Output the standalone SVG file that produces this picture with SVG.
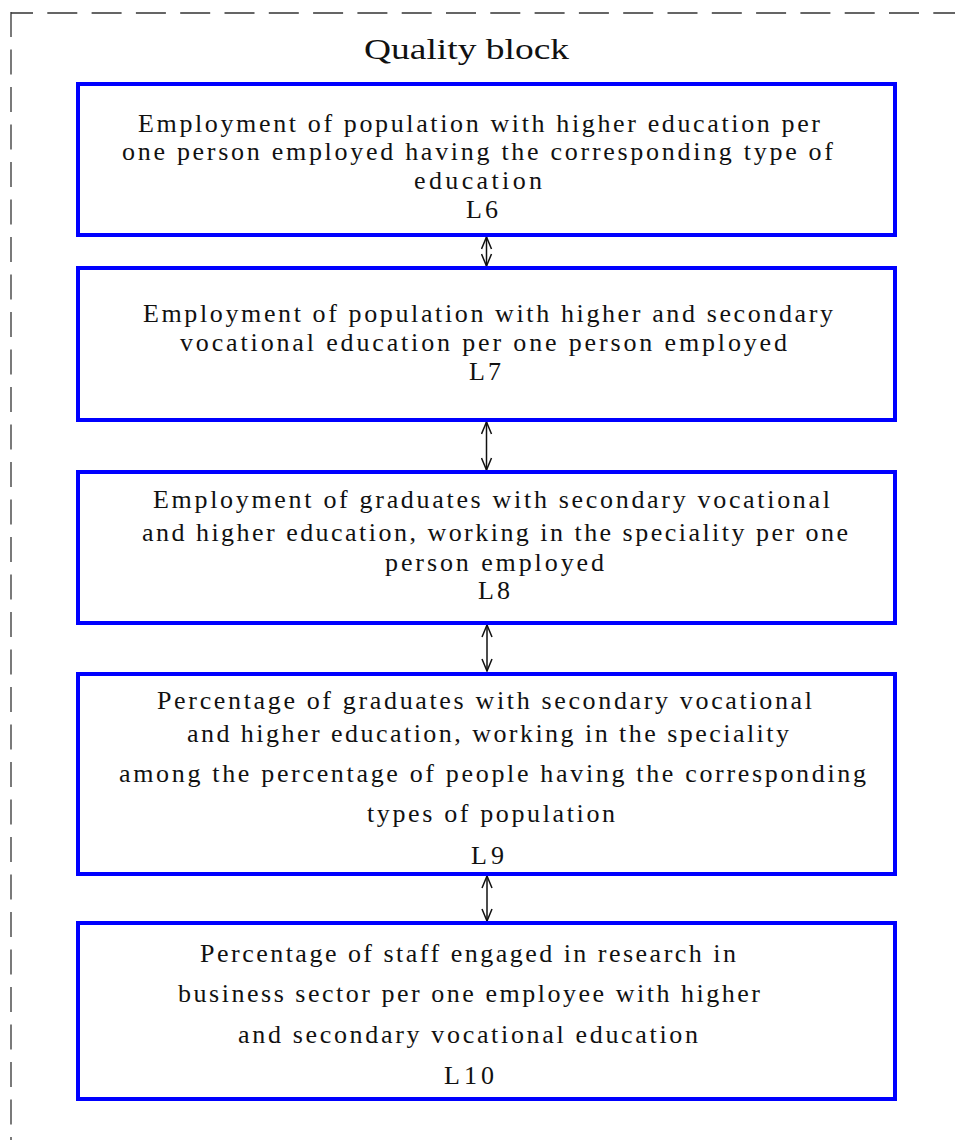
<svg xmlns="http://www.w3.org/2000/svg" width="955" height="1140" viewBox="0 0 955 1140">
<style>
.box{fill:#ffffff;stroke:#0000ff;stroke-width:4}
.t{font-family:"Liberation Serif","Times New Roman",serif;font-size:26px;fill:#111111}
.title{font-family:"Liberation Serif","Times New Roman",serif;font-size:30px;fill:#111111}
.conn{stroke:#111111;stroke-width:1.5;fill:none}
.frame{stroke:#333333;stroke-width:1.3;fill:none}
</style>
<defs>
<marker id="ah" viewBox="0 0 14 12" refX="13" refY="6" markerWidth="14" markerHeight="12" markerUnits="userSpaceOnUse" orient="auto-start-reverse">
<path d="M1,1 L13,6 L1,11" fill="none" stroke="#111111" stroke-width="1.5"/>
</marker>
</defs>
<rect width="955" height="1140" fill="#ffffff"/>
<g id="frame">
<line class="frame" x1="11" y1="13" x2="955" y2="13" stroke-dasharray="30 14.3" stroke-dashoffset="8"/>
<line class="frame" x1="11" y1="12" x2="11" y2="1140" stroke-dasharray="25 12.5"/>
<text class="title" x="364" y="59" textLength="205" lengthAdjust="spacingAndGlyphs">Quality block</text>
</g>
<g id="connectors">
<line class="conn" x1="486.5" y1="237" x2="486.5" y2="266" marker-start="url(#ah)" marker-end="url(#ah)"/>
<line class="conn" x1="486.5" y1="422" x2="486.5" y2="470" marker-start="url(#ah)" marker-end="url(#ah)"/>
<line class="conn" x1="487" y1="625" x2="487" y2="671" marker-start="url(#ah)" marker-end="url(#ah)"/>
<line class="conn" x1="487" y1="876" x2="487" y2="921" marker-start="url(#ah)" marker-end="url(#ah)"/>
</g>
<g id="L6">
<rect class="box" x="78" y="84" width="817" height="151"/>
<text class="t" x="138" y="132" textLength="682" lengthAdjust="spacing">Employment of population with higher education per</text>
<text class="t" x="122" y="160" textLength="711" lengthAdjust="spacing">one person employed having the corresponding type of</text>
<text class="t" x="414" y="189" textLength="128" lengthAdjust="spacing">education</text>
<text class="t" x="466" y="218" textLength="32" lengthAdjust="spacing">L6</text>
</g>
<g id="L7">
<rect class="box" x="78" y="268" width="817" height="152"/>
<text class="t" x="143" y="322" textLength="690" lengthAdjust="spacing">Employment of population with higher and secondary</text>
<text class="t" x="180" y="351" textLength="607" lengthAdjust="spacing">vocational education per one person employed</text>
<text class="t" x="469" y="380" textLength="32" lengthAdjust="spacing">L7</text>
</g>
<g id="L8">
<rect class="box" x="78" y="472" width="817" height="151"/>
<text class="t" x="153" y="508" textLength="677" lengthAdjust="spacing">Employment of graduates with secondary vocational</text>
<text class="t" x="142" y="541" textLength="706" lengthAdjust="spacing">and higher education, working in the speciality per one</text>
<text class="t" x="385" y="571" textLength="219" lengthAdjust="spacing">person employed</text>
<text class="t" x="478" y="599" textLength="32" lengthAdjust="spacing">L8</text>
</g>
<g id="L9">
<rect class="box" x="78" y="674" width="817" height="200"/>
<text class="t" x="157" y="709" textLength="655" lengthAdjust="spacing">Percentage of graduates with secondary vocational</text>
<text class="t" x="187" y="742" textLength="602" lengthAdjust="spacing">and higher education, working in the speciality</text>
<text class="t" x="119" y="782" textLength="747" lengthAdjust="spacing">among the percentage of people having the corresponding</text>
<text class="t" x="367" y="822" textLength="248" lengthAdjust="spacing">types of population</text>
<text class="t" x="471" y="864" textLength="33" lengthAdjust="spacing">L9</text>
</g>
<g id="L10">
<rect class="box" x="78" y="923" width="817" height="176"/>
<text class="t" x="200" y="962" textLength="536" lengthAdjust="spacing">Percentage of staff engaged in research in</text>
<text class="t" x="178" y="1002" textLength="582" lengthAdjust="spacing">business sector per one employee with higher</text>
<text class="t" x="238" y="1043" textLength="460" lengthAdjust="spacing">and secondary vocational education</text>
<text class="t" x="444" y="1084" textLength="50" lengthAdjust="spacing">L10</text>
</g>
</svg>
